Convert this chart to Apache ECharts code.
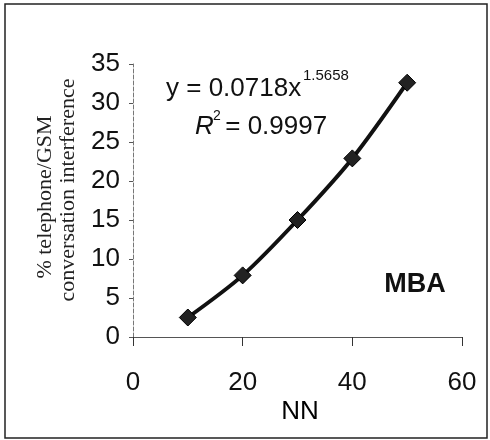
<!DOCTYPE html>
<html><head><meta charset="utf-8">
<script src="https://cdn.jsdelivr.net/npm/echarts@6/dist/echarts.min.js"></script>
<style>html,body{margin:0;padding:0;background:#fff}#c{width:490px;height:440px}</style>
</head><body><div id="c"></div>
<script>
const xValues = [10, 20, 30, 40, 50];
const yValues = [2.5, 7.9, 15.0, 22.9, 32.6];
const xTicks = [0, 20, 40, 60];
const yTicks = [0, 5, 10, 15, 20, 25, 30, 35];
const yTitleLines = ['% telephone/GSM', 'conversation interference'];
const xTitle = 'NN';
const eqText = 'y = 0.0718x';
const eqExp = '1.5658';
const r2Text = 'R';
const r2Rest = ' = 0.9997';
const tag = 'MBA';

const chart = echarts.init(document.getElementById('c'), null, {renderer: 'canvas'});
const sans = '"Liberation Sans",Arial,sans-serif';
const serif = '"Liberation Serif","Times New Roman",serif';
chart.setOption({
  animation: false,
  backgroundColor: '#fff',
  grid: {left: 133, right: 28, top: 64, bottom: 103, containLabel: false},
  xAxis: {
    type: 'value', min: 0, max: 60, interval: 20,
    axisLine: {show: true, lineStyle: {color: '#555', width: 1}},
    axisTick: {show: true, inside: false, length: 9, lineStyle: {color: '#333'}},
    axisLabel: {fontFamily: sans, fontSize: 26, color: '#111', margin: 33},
    splitLine: {show: false}
  },
  yAxis: {
    type: 'value', min: 0, max: 35, interval: 5,
    axisLine: {show: true, lineStyle: {color: '#777', width: 1, type: [4, 2]}},
    axisTick: {show: true, inside: false, length: 4, lineStyle: {color: '#555'}},
    axisLabel: {fontFamily: sans, fontSize: 26, color: '#111', margin: 13},
    splitLine: {show: false}
  },
  series: [{
    type: 'line',
    data: xValues.map((x, i) => [x, yValues[i]]),
    smooth: 0.3,
    symbol: 'diamond',
    symbolSize: 17,
    lineStyle: {color: '#111', width: 4},
    itemStyle: {color: '#222', borderColor: '#000', borderWidth: 1}
  }],
  graphic: [
    {type: 'rect', shape: {x: 5, y: 4, width: 482, height: 434}, style: {fill: 'none', stroke: '#222', lineWidth: 1.5}, silent: true},
    {type: 'text', x: 45, y: 197, rotation: Math.PI / 2, style: {text: yTitleLines[0], font: '22px ' + serif, fill: '#222', align: 'center', verticalAlign: 'middle'}},
    {type: 'text', x: 68, y: 190, rotation: Math.PI / 2, style: {text: yTitleLines[1], font: '22px ' + serif, fill: '#222', align: 'center', verticalAlign: 'middle'}},
    {type: 'text', x: 300, y: 412, style: {text: xTitle, font: '26px ' + sans, fill: '#000', align: 'center', verticalAlign: 'middle'}},
    {type: 'text', x: 166, y: 89, style: {text: eqText, font: '26px ' + sans, fill: '#111', align: 'left', verticalAlign: 'middle'}},
    {type: 'text', x: 303, y: 76, style: {text: eqExp, font: '15px ' + sans, fill: '#111', align: 'left', verticalAlign: 'middle'}},
    {type: 'text', x: 195, y: 127, style: {text: r2Text, font: 'italic 26px ' + sans, fill: '#111', align: 'left', verticalAlign: 'middle'}},
    {type: 'text', x: 213, y: 116, style: {text: '2', font: '14px ' + sans, fill: '#111', align: 'left', verticalAlign: 'middle'}},
    {type: 'text', x: 218, y: 127, style: {text: r2Rest, font: '26px ' + sans, fill: '#111', align: 'left', verticalAlign: 'middle'}},
    {type: 'text', x: 415, y: 285, style: {text: tag, font: 'bold 27px ' + sans, fill: '#111', align: 'center', verticalAlign: 'middle'}}
  ]
});
</script></body></html>
